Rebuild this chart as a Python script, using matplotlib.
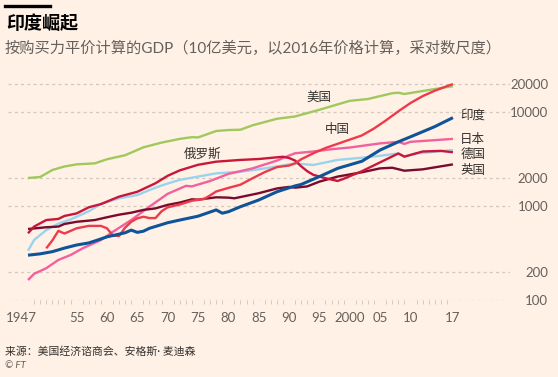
import matplotlib
matplotlib.use("Agg")
import matplotlib.pyplot as plt
import matplotlib.transforms as mtransforms
from matplotlib.lines import Line2D

plt.rcParams['font.family'] = ['Lato', 'Noto Sans CJK SC', 'DejaVu Sans']

# ---------------- data (10亿美元, 2016 PPP) ----------------
years_us = [1947,1949,1951,1953,1955,1958,1960,1963,1966,1969,1972,1974,1975,1978,1980,1982,1984,1988,1991,1995,2000,2003,2007,2008,2009,2013,2017]
us = [1990,2040,2420,2640,2780,2850,3150,3480,4220,4740,5190,5420,5380,6300,6450,6500,7250,8500,9000,10600,13200,13800,15900,16100,15600,17200,18900]

years_cn = [1950,1951,1952,1953,1955,1957,1959,1960,1961,1962,1963,1964,1965,1966,1967,1968,1969,1970,1972,1974,1976,1977,1978,1980,1982,1984,1986,1988,1990,1991,1992,1994,1996,1998,2000,2002,2004,2006,2008,2010,2012,2014,2016,2017]
cn = [355,430,545,510,580,615,615,580,485,480,590,680,740,770,745,745,880,970,1040,1140,1190,1300,1430,1560,1690,1980,2300,2600,2700,2850,3150,3650,4150,4600,5100,5650,6700,8200,10200,12500,14800,16900,18900,19900]

years_in = [1947,1949,1951,1953,1955,1957,1958,1960,1963,1964,1965,1966,1967,1969,1970,1972,1975,1978,1979,1980,1982,1985,1988,1991,1992,1995,1998,2002,2005,2008,2011,2014,2017]
india = [300,310,327,357,385,405,425,470,520,555,525,540,580,635,665,710,780,910,840,870,985,1160,1420,1640,1700,2060,2520,3000,3950,4830,5810,7010,8740]

years_jp = [1947,1948,1950,1952,1954,1956,1959,1961,1964,1967,1970,1973,1974,1977,1980,1984,1988,1990,1991,1994,1997,2000,2005,2008,2009,2010,2017]
jp = [163,190,218,267,301,355,435,533,710,985,1350,1640,1620,1850,2200,2520,3050,3450,3650,3810,4030,4200,4650,4830,4590,4830,5190]

years_ru = [1947,1948,1950,1952,1953,1955,1957,1959,1962,1965,1968,1970,1972,1975,1978,1982,1985,1989,1990,1991,1992,1993,1994,1996,1998,1999,2000,2002,2005,2008,2009,2012,2015,2017]
ru = [513,605,710,730,785,835,970,1050,1260,1420,1750,2100,2400,2750,2970,3100,3170,3350,3250,3050,2650,2350,2150,1980,1850,1950,2080,2350,2920,3630,3360,3810,3870,3740]

years_de = [1947,1948,1950,1952,1954,1957,1959,1962,1965,1968,1970,1972,1975,1978,1982,1985,1988,1991,1993,1994,1998,2002,2005,2008,2009,2011,2017]
de = [335,435,555,650,720,880,1050,1210,1310,1570,1740,1900,2060,2230,2320,2460,2640,2850,2770,2740,3100,3270,3430,3630,3360,3630,3950]

years_uk = [1947,1950,1952,1953,1955,1957,1958,1960,1962,1964,1966,1968,1970,1972,1974,1975,1978,1980,1981,1985,1988,1990,1991,1993,1995,1998,2002,2005,2007,2009,2012,2017]
uk = [570,595,605,645,680,700,710,760,810,850,910,945,1030,1090,1180,1170,1240,1230,1210,1370,1540,1600,1570,1620,1820,2060,2290,2520,2560,2380,2460,2780]

y_ticks = [100, 200, 1000, 2000, 10000, 20000]
y_ticklabels = ['100', '200', '1000', '2000', '10000', '20000']
x_ticks = [1947, 1955, 1960, 1965, 1970, 1975, 1980, 1985, 1990, 1995, 2000, 2005, 2010, 2017]
x_ticklabels = ['1947', '55', '60', '65', '70', '75', '80', '85', '90', '95', '2000', '05', '10', '17']

BG = '#fff1e5'
TXT = '#66605c'
GRID = '#d4c9bf'

fig = plt.figure(figsize=(5.58, 3.77), dpi=100, facecolor=BG)
ax = fig.add_axes([8/558, 77/377, 502/558, 230/377])
ax.set_facecolor(BG)
ax.set_yscale('log')
ax.set_xlim(1943.7, 2026.4)
ax.set_ylim(100, 28100)

for v in y_ticks:
    ax.axhline(v, color=GRID, lw=0.9, ls=(0, (2.5, 2.5)), zorder=1)

series = [
    (years_us, us, '#9fc95c', 1.7),
    (years_de, de, '#9ad3ee', 1.7),
    (years_jp, jp, '#f2609d', 1.7),
    (years_uk, uk, '#7a0b2e', 1.7),
    (years_ru, ru, '#c8173a', 1.7),
    (years_cn, cn, '#ee3b4c', 1.7),
    (years_in, india, '#0f5499', 2.2),
]
for xs, ys, c, lw in series:
    ax.plot(xs, ys, color=c, lw=lw, solid_joinstyle='round', solid_capstyle='butt', zorder=3)

for s in ax.spines.values():
    s.set_visible(False)

ax.yaxis.tick_right()
ax.set_yticks(y_ticks)
ax.set_yticklabels(y_ticklabels)
ax.yaxis.set_minor_locator(matplotlib.ticker.NullLocator())
ax.tick_params(axis='y', which='both', length=0, pad=27.5, labelsize=9.5, labelcolor=TXT)
for lab in ax.get_yticklabels():
    lab.set_horizontalalignment('right')

ax.set_xticks(x_ticks)
ax.set_xticklabels(x_ticklabels)
ax.set_xticks(list(range(1947, 2018)), minor=True)
ax.tick_params(axis='x', which='major', length=0, pad=9, labelsize=9.5, labelcolor=TXT)
ax.tick_params(axis='x', which='minor', length=3, width=0.7, color=GRID, direction='out')
lab0 = ax.get_xticklabels()[0]
lab0.set_transform(lab0.get_transform() + mtransforms.ScaledTranslation(-7/100, 0, fig.dpi_scale_trans))

# labels
LAB = '#33302e'
ax.text(1995.0, 14500, '美国', fontsize=9, color=LAB, ha='center', va='center')
ax.text(1998.0, 6600, '中国', fontsize=9, color=LAB, ha='center', va='center')
ax.text(1975.8, 3580, '俄罗斯', fontsize=9, color=LAB, ha='center', va='center')
for txt, val in [('印度', 9350), ('日本', 5150), ('德国', 3570), ('英国', 2450)]:
    ax.text(2018.2, val, txt, fontsize=9, color=LAB, ha='left', va='center')

# titles
fig.add_artist(Line2D([5/558, 50/558], [1 - 6/377, 1 - 6/377], color='#000000', lw=2.4))
fig.text(6/558, 1 - 23/377, '印度崛起', fontsize=13, fontweight='bold', color='#000000', ha='left', va='center')
fig.text(5/558, 1 - 48/377, '按购买力平价计算的GDP（10亿美元，以2016年价格计算，采对数尺度）', fontsize=11, color=TXT, ha='left', va='center')
fig.text(5/558, 1 - 351/377, '来源：美国经济谘商会、安格斯· 麦迪森', fontsize=7.8, color='#33302e', ha='left', va='center')
fig.text(5/558, 1 - 365/377, '© FT', fontsize=7, color=TXT, ha='left', va='center', style='italic')

fig.savefig('out.png', dpi=100, facecolor=BG)
